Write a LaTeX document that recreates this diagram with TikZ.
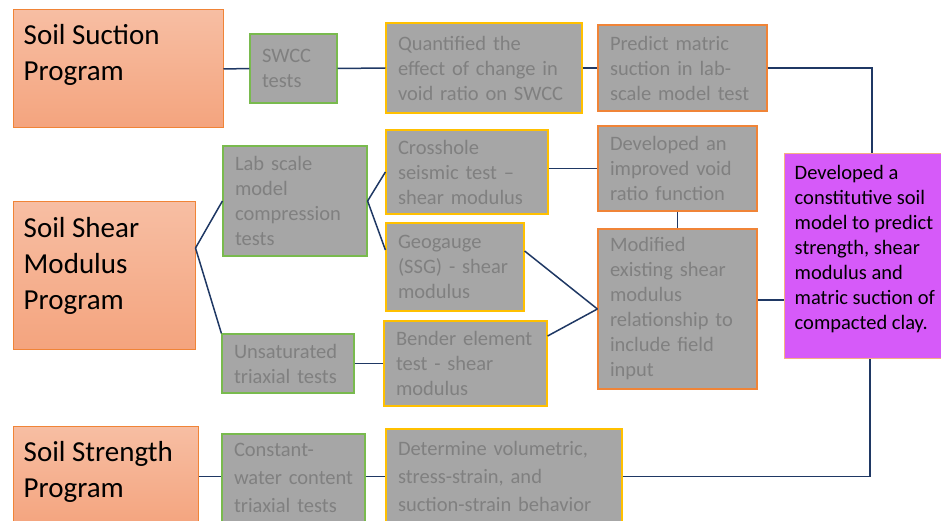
\documentclass[tikz,border=0pt]{standalone}
\usepackage{fontspec}
\setmainfont{Carlito}
\usepackage{xcolor}
\usepackage{tikz}
\usetikzlibrary{positioning}

\definecolor{navy}{HTML}{1F3864}
\definecolor{boxgray}{HTML}{A6A6A6}
\definecolor{txtgray}{HTML}{808080}
\definecolor{edgegreen}{HTML}{79BA4E}
\definecolor{edgegold}{HTML}{FFC000}
\definecolor{edgeorange}{HTML}{F08437}
\definecolor{progtop}{HTML}{F7BEA3}
\definecolor{progbot}{HTML}{F4A47E}
\definecolor{resfill}{HTML}{D65AF9}
\definecolor{resedge}{HTML}{F4B183}

\begin{document}
\begin{tikzpicture}[
    x=1pt, y=-1pt,
    progbox/.style={rectangle, draw=edgeorange, line width=1pt,
                    top color=progtop, bottom color=progbot, inner sep=0pt},
    progtext/.style={anchor=north west, inner sep=0pt, align=left,
                     font=\fontsize{29}{36}\selectfont},
    testbox/.style={rectangle, draw=#1, line width=1.2pt, fill=boxgray, text=txtgray,
                    inner xsep=12pt, inner ysep=3pt, align=left,
                    font=\fontsize{20.5}{25}\selectfont},
    loose/.style={font=\fontsize{20.5}{28}\selectfont},
    resbox/.style={rectangle, draw=resedge, line width=1pt, fill=resfill, inner sep=0pt},
    restext/.style={anchor=north west, inner sep=0pt, align=left,
                    font=\fontsize{20.5}{25}\selectfont},
    link/.style={draw=navy, line width=1.5pt}
]
\useasboundingbox (0,0) rectangle (941,521);

% programs
\node[progbox, minimum width=210pt, minimum height=118pt] (suction)  at (118,69) {};
\node[progbox, minimum width=182pt, minimum height=147pt] (shear)    at (104,275.5) {};
\node[progbox, minimum width=185pt, minimum height=100pt] (strength) at (105.5,476.5) {};
\node[progtext] (suctiontxt)  at ([xshift=11pt, yshift=-15pt]suction.north west)  {Soil Suction\\Program};
\node[progtext] (sheartxt)    at ([xshift=11pt, yshift=-16pt]shear.north west)    {Soil Shear\\Modulus\\Program};
\node[progtext] (strengthtxt) at ([xshift=11pt, yshift=-15pt]strength.north west) {Soil Strength\\Program};

% tests and findings
\node[testbox=edgegreen,  minimum width=87pt,  minimum height=69pt,  text width=63pt]  (swcc)    at (293.5,68.5) {SWCC\\tests};
\node[testbox=edgegold,   minimum width=196pt, minimum height=90pt,  text width=172pt] (quant)   at (484,68) {Quantified the\\effect of change in\\void ratio on SWCC};
\node[testbox=edgeorange, minimum width=169pt, minimum height=86pt,  text width=145pt] (predict) at (682.5,68) {Predict matric\\suction in lab-\\scale model test};
\node[testbox=edgegreen,  minimum width=144pt, minimum height=110pt, text width=120pt] (lab)     at (295,201) {Lab scale\\model\\compression\\tests};
\node[testbox=edgegold,   minimum width=162pt, minimum height=84pt,  text width=138pt] (cross)   at (467,172) {Crosshole\\seismic test --\\shear modulus};
\node[testbox=edgegold,   minimum width=138pt, minimum height=88pt,  text width=114pt] (geo)     at (455,267) {Geogauge\\\mbox{(SSG) - shear}\\modulus};
\node[testbox=edgegold,   minimum width=163pt, minimum height=85pt,  text width=139pt] (bender)  at (465.5,363.5) {\mbox{Bender element}\\test - shear\\modulus};
\node[testbox=edgegreen,  minimum width=132pt, minimum height=59pt,  text width=108pt] (unsat)   at (288,363.5) {Unsaturated\\\mbox{triaxial tests}};
\node[testbox=edgeorange, minimum width=159pt, minimum height=85pt,  text width=135pt] (devel)   at (677.5,168.5) {Developed an\\improved void\\ratio function};
\node[testbox=edgeorange, minimum width=159pt, minimum height=160pt, text width=135pt] (modif)   at (677.5,309) {Modified\\existing shear\\modulus\\relationship to\\include field\\input};
\node[testbox=edgegreen,  loose, minimum width=143pt, minimum height=88pt,  text width=119pt] (constant)  at (293.5,478) {Constant-\\\mbox{water content}\\\mbox{triaxial tests}};
\node[testbox=edgegold,   loose, minimum width=236pt, minimum height=94pt,  text width=212pt] (determine) at (504,476) {Determine volumetric,\\stress-strain, and\\suction-strain behavior};

% outcome
\node[resbox, minimum width=158pt, minimum height=204pt] (model) at (863,256) {};
\node[restext] (modeltxt) at ([xshift=11pt, yshift=-11.5pt]model.north west)
    {Developed a\\constitutive soil\\model to predict\\strength, shear\\modulus and\\matric suction of\\compacted clay.};

\coordinate (fork) at ([yshift=27.5pt]shear.east);

\draw[link] (suction.east) -- (swcc.west);
\draw[link] (swcc.east) -- (quant.west);
\draw[link] (quant.east) -- (predict.west);
\draw[link] (predict.east) -| ([xshift=9pt]model.north);
\draw[link] (fork) -- (lab.west);
\draw[link] (fork) -- (unsat.north west);
\draw[link] (lab.east) -- (cross.west);
\draw[link] (lab.east) -- ([yshift=17pt]geo.west);
\draw[link] (cross.east |- devel.west) -- (devel.west);
\draw[link] (devel.south) -- (modif.north);
\draw[link] ([yshift=16pt]geo.east) -- (modif.west);
\draw[link] ([yshift=27.5pt]bender.east) -- (modif.west);
\draw[link] ([yshift=9pt]modif.east) -- ([yshift=9pt]modif.east -| model.west);
\draw[link] (unsat.east) -- (bender.west);
\draw[link] (strength.east) -- (strength.east -| constant.west);
\draw[link] (strength.east -| constant.east) -- (strength.east -| determine.west);
\draw[link] (strength.east -| determine.east) -| ([xshift=7pt]model.south);
\end{tikzpicture}
\end{document}
